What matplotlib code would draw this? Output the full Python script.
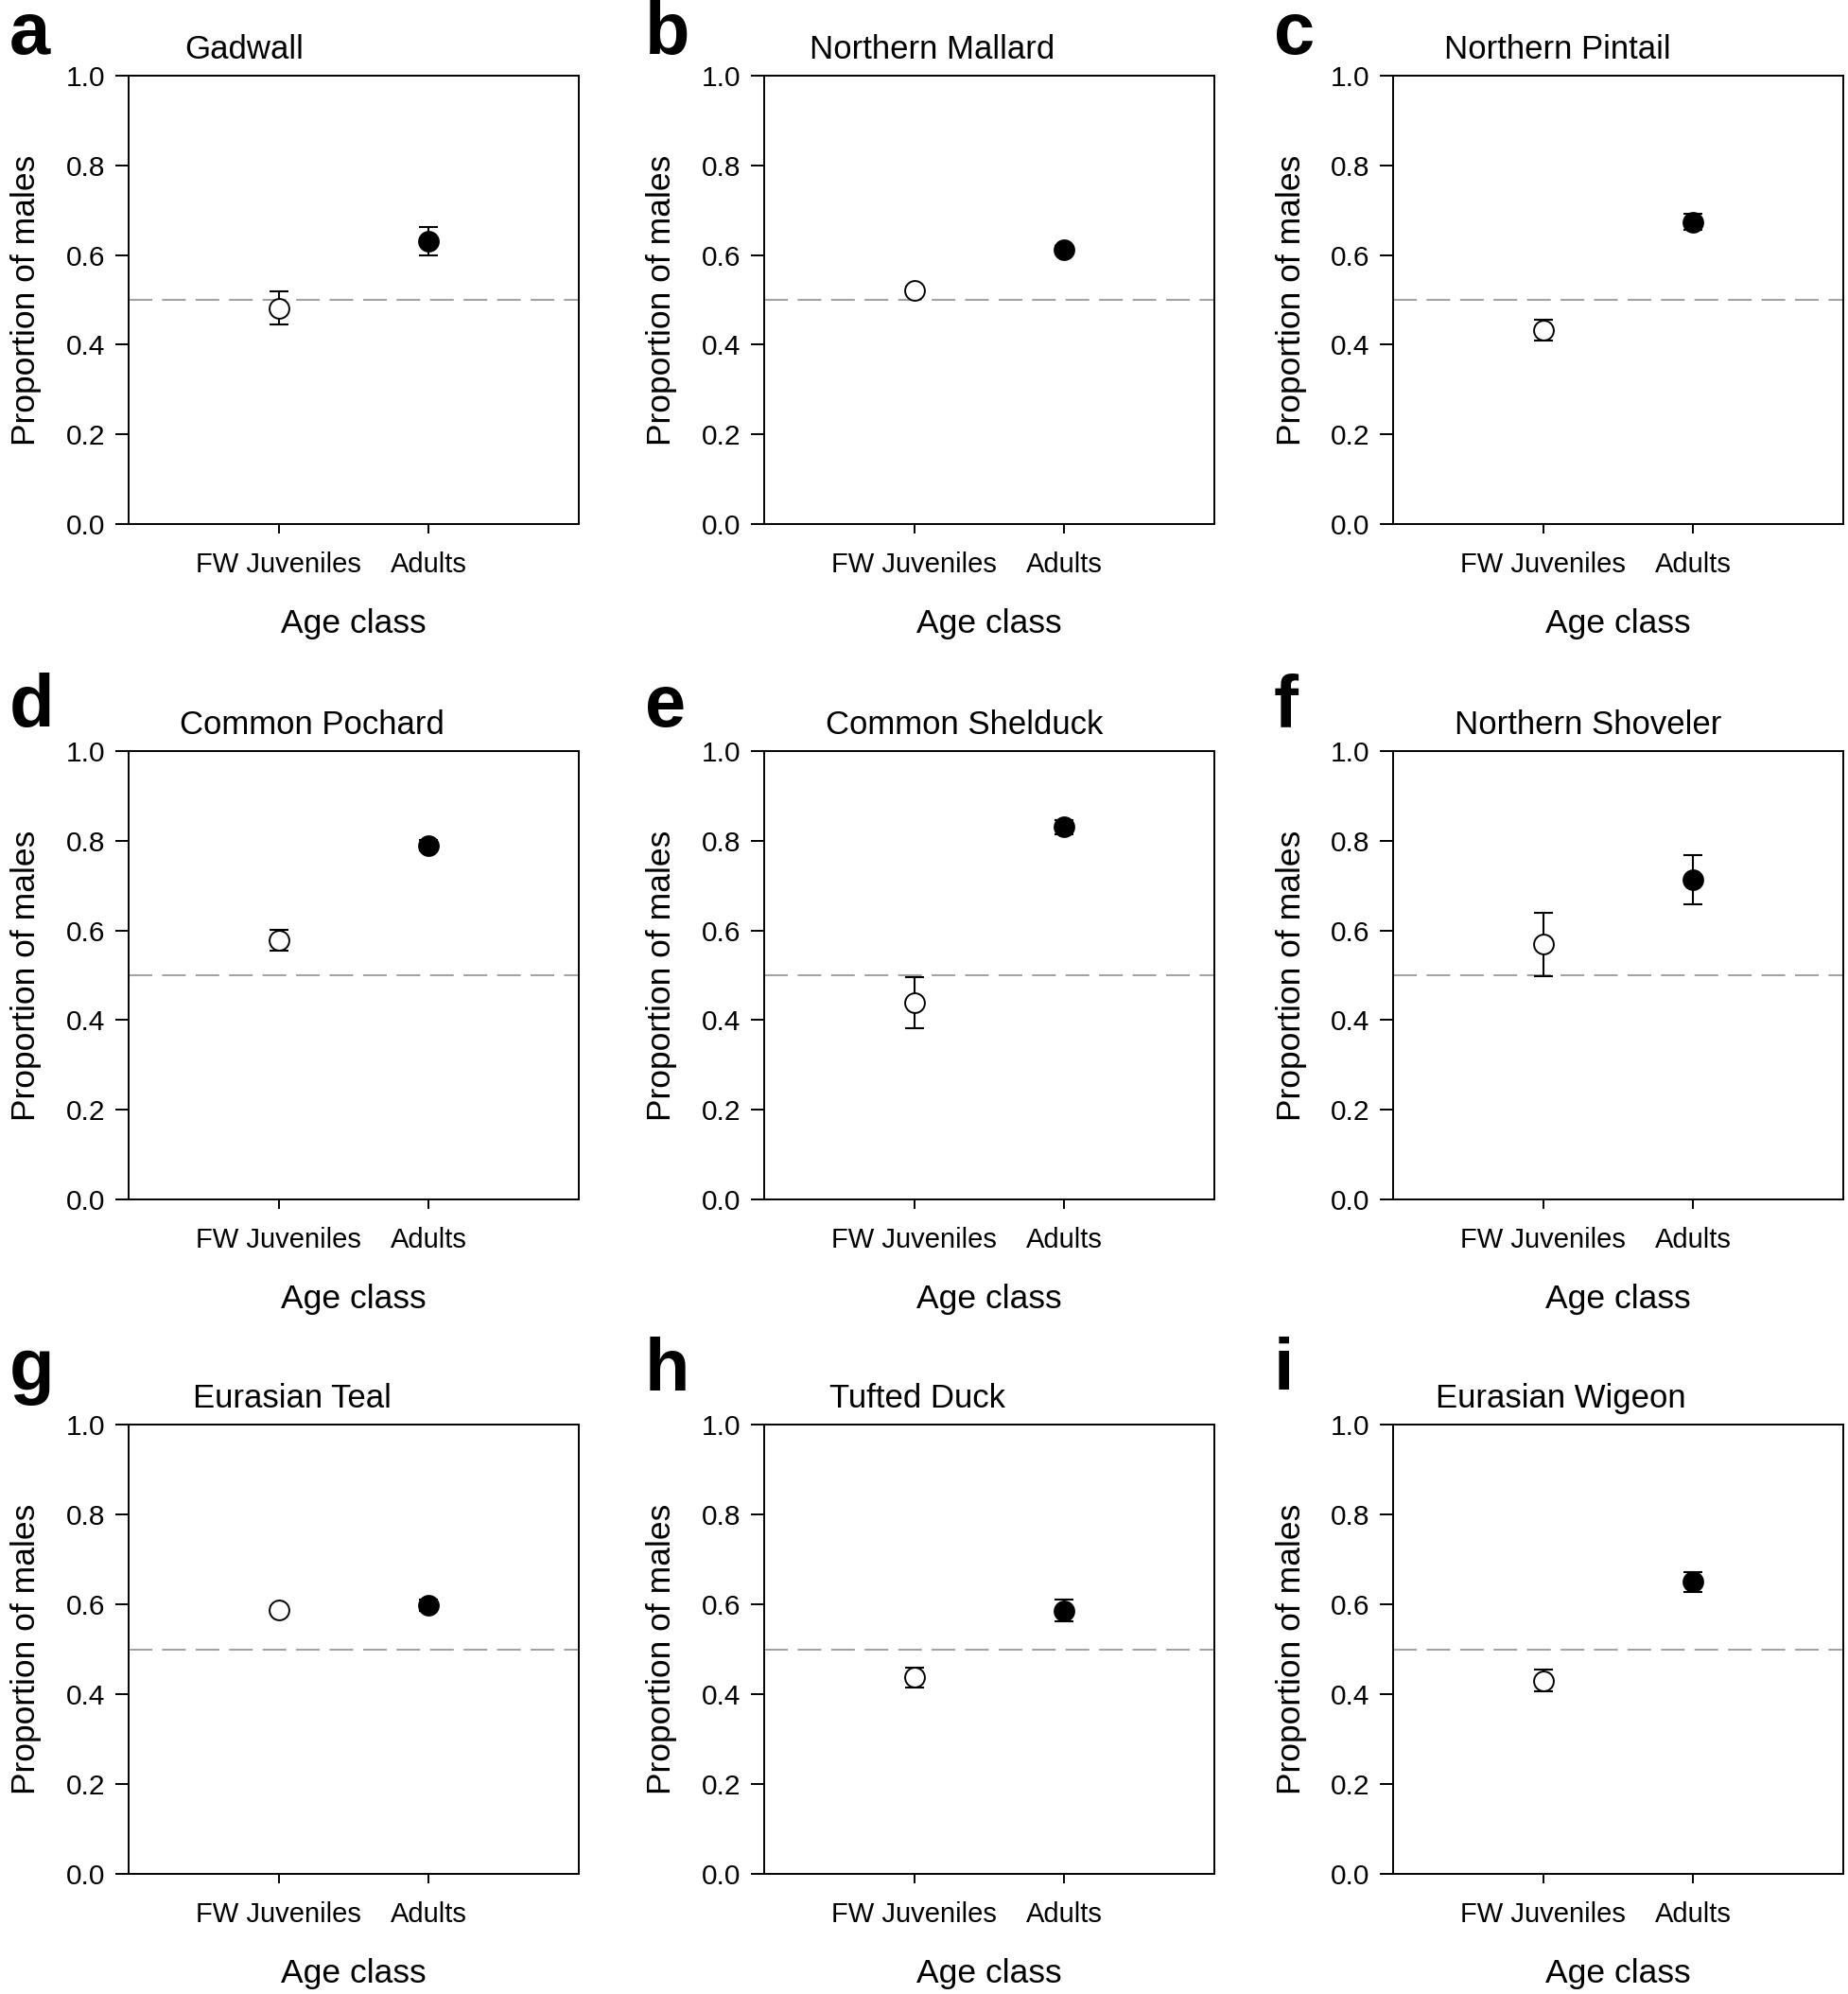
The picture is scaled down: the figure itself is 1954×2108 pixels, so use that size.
import matplotlib
matplotlib.use("Agg")
import matplotlib.pyplot as plt
import numpy as np

# ---------------- data ----------------
panel_letters = ["a", "b", "c", "d", "e", "f", "g", "h", "i"]
species = ["Gadwall", "Northern Mallard", "Northern Pintail",
           "Common Pochard", "Common Shelduck", "Northern Shoveler",
           "Eurasian Teal", "Tufted Duck", "Eurasian Wigeon"]
age_classes = ["FW Juveniles", "Adults"]

juv_mean = [0.482, 0.522, 0.432, 0.578, 0.439, 0.569, 0.587, 0.437, 0.430]
juv_err = [0.036, 0.008, 0.023, 0.024, 0.057, 0.071, 0.008, 0.022, 0.024]
adult_mean = [0.631, 0.612, 0.674, 0.790, 0.831, 0.713, 0.598, 0.586, 0.650]
adult_err = [0.031, 0.008, 0.017, 0.012, 0.016, 0.055, 0.012, 0.024, 0.022]
parity_line = 0.5
yticks = [0.0, 0.2, 0.4, 0.6, 0.8, 1.0]

# ---------------- layout (pixels) ----------------
W, H = 1954, 2108
col_x = [(136, 612), (808, 1284), (1473, 1949)]
row_y = [(80, 554), (794, 1268), (1506, 1981)]
title_left = [59, 48, 54, 54, 65, 65, 68, 69, 45]   # px from axes left
letter_base = [57, 768, 1470]

plt.rcParams['font.family'] = ['Liberation Sans', 'DejaVu Sans']
plt.rcParams['lines.scale_dashes'] = False

fig = plt.figure(figsize=(W / 100, H / 100), dpi=100)
fig.patch.set_facecolor('white')

for k in range(9):
    r, c = divmod(k, 3)
    x0, x1 = col_x[c]
    y0, y1 = row_y[r]
    ax = fig.add_axes([x0 / W, 1 - y1 / H, (x1 - x0) / W, (y1 - y0) / H])
    xs = [1, 2]
    ax.axhline(parity_line, color='#a3a3a3', lw=1.5, dashes=(18, 7.5), zorder=1)
    ax.errorbar(xs[0], juv_mean[k], yerr=juv_err[k], fmt='none', ecolor='black',
                elinewidth=1.5, capsize=7.5, capthick=1.5, zorder=2)
    ax.errorbar(xs[1], adult_mean[k], yerr=adult_err[k], fmt='none', ecolor='black',
                elinewidth=1.5, capsize=7.5, capthick=1.5, zorder=2)
    ax.plot(xs[0], juv_mean[k], 'o', ms=15, mfc='white', mec='black', mew=1.4, zorder=3)
    ax.plot(xs[1], adult_mean[k], 'o', ms=15, mfc='black', mec='black', mew=1.4, zorder=3)

    ax.set_xlim(0, 3)
    ax.set_ylim(0, 1)
    ax.set_xticks(xs)
    ax.set_xticklabels(age_classes)
    ax.set_yticks(yticks)
    ax.set_yticklabels([f"{v:.1f}" for v in yticks])
    for s in ax.spines.values():
        s.set_linewidth(1.4)
    ax.tick_params(axis='y', direction='out', length=10, width=1.4, pad=8, labelsize=21.5)
    ax.tick_params(axis='x', direction='out', length=7, width=1.4, pad=14, labelsize=21)
    ax.set_ylabel("Proportion of males", fontsize=25.5, labelpad=18)
    ax.set_xlabel("Age class", fontsize=25.5, labelpad=23)

    # title
    fig.text((x0 + title_left[k]) / W, 1 - (y0 - 18) / H, species[k],
             fontsize=25, ha='left', va='baseline')
    # panel letter
    fig.text((x0 - 126) / W, 1 - letter_base[r] / H, panel_letters[k],
             fontsize=56, fontweight='bold', ha='left', va='baseline')

fig.savefig("out.png", dpi=100, facecolor='white')
